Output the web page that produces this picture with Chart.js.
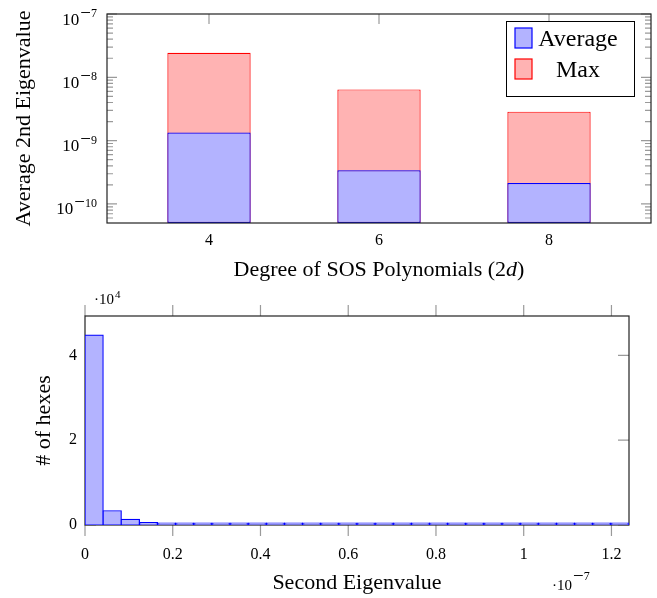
<!DOCTYPE html>
<html>
<head>
<meta charset="utf-8">
<script src="https://cdn.jsdelivr.net/npm/chart.js@4.4.0/dist/chart.umd.min.js"></script>
<style>
  html, body { margin: 0; padding: 0; background: #fff; }
  #wrap { position: relative; width: 657px; height: 598px; }
  canvas { position: absolute; left: 0; }
</style>
</head>
<body>
<div id="wrap">
  <canvas id="topChart" width="657" height="290" style="top:0"></canvas>
  <canvas id="bottomChart" width="657" height="308" style="top:290px"></canvas>
</div>
<script>
// ---- top chart data (log scale bars)
var degrees = [4, 6, 8];
var avgEig = [1.34e-9, 3.39e-10, 2.14e-10];
var maxEig = [2.44e-8, 6.44e-9, 2.87e-9];
var degreeTicks = [4, 6, 8];
var eigTicks = [1e-10, 1e-9, 1e-8, 1e-7];

// ---- bottom chart data (histogram, x in units of 1e-7)
var binCenters = [0.0207, 0.0620, 0.1033, 0.1447, 0.1860, 0.2273, 0.2687, 0.3100, 0.3513, 0.3927,
                  0.4340, 0.4753, 0.5167, 0.5580, 0.5993, 0.6407, 0.6820, 0.7233, 0.7647, 0.8060,
                  0.8473, 0.8887, 0.9300, 0.9713, 1.0127, 1.0540, 1.0953, 1.1367, 1.1780, 1.2193];
var hexCounts = [44800, 3360, 1340, 540, 200, 170, 140, 110, 60, 50,
                 45, 40, 35, 30, 25, 22, 20, 18, 15, 12,
                 10, 10, 8, 8, 6, 6, 5, 5, 4, 4];
var secondTicks = [0, 0.2, 0.4, 0.6, 0.8, 1, 1.2];
var countTicks = [0, 20000, 40000];

var serif = "'Liberation Serif', 'Times New Roman', serif";
var blueFill = 'rgb(179,179,255)', blueLine = 'rgb(0,0,255)';
var redFill = 'rgb(255,179,179)', redLine = 'rgb(255,0,0)';
var tickGray = '#9a9a9a';

// draws base^exp text like TeX, x is left or right edge, y is the base line of the base text
function drawPow(ctx, x, y, base, exp, o) {
  ctx.save();
  ctx.fillStyle = '#000';
  ctx.textAlign = 'left';
  ctx.textBaseline = 'alphabetic';
  var neg = exp.charAt(0) === '-';
  var digits = neg ? exp.slice(1) : exp;
  ctx.font = o.bs + 'px ' + serif;
  var wb = ctx.measureText(base).width;
  ctx.font = o.ms + 'px ' + serif;
  var wm = neg ? ctx.measureText('\u2212').width : 0;
  ctx.font = o.es + 'px ' + serif;
  var wd = ctx.measureText(digits).width;
  var x0 = o.right ? x - wb - wm - wd - 1 : x;
  var ey = y - o.raise;
  ctx.font = o.bs + 'px ' + serif;
  ctx.fillText(base, x0, y);
  if (neg) {
    ctx.font = o.ms + 'px ' + serif;
    ctx.fillText('\u2212', x0 + wb + 1, ey + (o.drop || 0));
  }
  ctx.font = o.es + 'px ' + serif;
  ctx.fillText(digits, x0 + wb + wm + 1, ey);
  ctx.restore();
}

// pgfplots-like frame + tick marks
var pgfFrame = {
  id: 'pgfFrame',
  beforeDatasetsDraw: function (chart, args, o) {
    var ctx = chart.ctx, a = chart.chartArea;
    var xs = chart.scales.x, ys = chart.scales.y;
    ctx.save();
    ctx.strokeStyle = tickGray;
    ctx.lineWidth = 1.2;
    ctx.beginPath();
    xs.ticks.forEach(function (t) {
      var px = xs.getPixelForValue(t.value);
      ctx.moveTo(px, a.top); ctx.lineTo(px, a.top + o.xDir * o.xLen);
      ctx.moveTo(px, a.bottom); ctx.lineTo(px, a.bottom - o.xDir * o.xLen);
    });
    ys.ticks.forEach(function (t) {
      var py = ys.getPixelForValue(t.value);
      ctx.moveTo(a.left, py); ctx.lineTo(a.left + o.yLen, py);
      ctx.moveTo(a.right, py); ctx.lineTo(a.right - o.yLen, py);
    });
    (o.minor || []).forEach(function (v) {
      var py = ys.getPixelForValue(v);
      if (py < a.top || py > a.bottom) return;
      ctx.moveTo(a.left, py); ctx.lineTo(a.left + o.minorLen, py);
      ctx.moveTo(a.right, py); ctx.lineTo(a.right - o.minorLen, py);
    });
    ctx.stroke();
    if (o.frameUnder) {
      ctx.strokeStyle = '#222';
      ctx.strokeRect(a.left, a.top, a.right - a.left, a.bottom - a.top);
    }
    ctx.restore();
  },
  afterDatasetsDraw: function (chart, args, o) {
    var ctx = chart.ctx, a = chart.chartArea;
    ctx.save();
    if (!o.frameUnder) {
      ctx.strokeStyle = '#222';
      ctx.lineWidth = 1.2;
      ctx.strokeRect(a.left, a.top, a.right - a.left, a.bottom - a.top);
    }
    if (o.legend) {
      var bx = a.right - 145, by = a.top + 7;
      ctx.fillStyle = '#fff';
      ctx.fillRect(bx, by, 128, 75);
      ctx.strokeStyle = '#000';
      ctx.lineWidth = 1;
      ctx.strokeRect(bx + 0.5, by + 0.5, 128, 75);
      ctx.font = '24px ' + serif;
      ctx.textAlign = 'center';
      ctx.textBaseline = 'middle';
      chart.data.datasets.forEach(function (ds, i) {
        var sy = by + 7 + i * 31;
        ctx.fillStyle = ds.backgroundColor;
        ctx.fillRect(bx + 9, sy, 17, 20);
        ctx.strokeStyle = ds.borderColor;
        ctx.lineWidth = 1.2;
        ctx.strokeRect(bx + 9, sy, 17, 20);
        ctx.fillStyle = '#000';
        ctx.fillText(ds.label, bx + 72, sy + 12);
      });
    }
    ctx.restore();
  },
  afterDraw: function (chart, args, o) {
    var ctx = chart.ctx, a = chart.chartArea;
    // log tick labels as 10^k
    if (o.powLabels) {
      var ys = chart.scales.y;
      ys.ticks.forEach(function (t) {
        var py = ys.getPixelForValue(t.value);
        var e = String(Math.round(Math.log10(t.value)));
        drawPow(ctx, a.left - 10, py + 10.5, '10', e, { bs: 17, es: 12, ms: 19, raise: 7.5, drop: 1.5, right: true });
      });
    }
    (o.notes || []).forEach(function (n) {
      drawPow(ctx, n.x, n.y, n.base, n.exp, n);
    });
    if (o.xTitle) {
      var parts = o.xTitle, cx = (a.left + a.right) / 2;
      ctx.save();
      ctx.textBaseline = 'middle';
      ctx.textAlign = 'left';
      ctx.fillStyle = '#000';
      var w = 0;
      parts.forEach(function (p) {
        ctx.font = (p.italic ? 'italic ' : '') + '22px ' + serif;
        p.w = ctx.measureText(p.text).width;
        w += p.w;
      });
      var x = cx - w / 2;
      parts.forEach(function (p) {
        ctx.font = (p.italic ? 'italic ' : '') + '22px ' + serif;
        ctx.fillText(p.text, x, o.xTitleY);
        x += p.w;
      });
      ctx.restore();
    }
  }
};

var minorEig = [];
eigTicks.forEach(function (d) {
  for (var k = 2; k <= 9; k++) minorEig.push(d * k);
});
minorEig.push(6e-11, 7e-11, 8e-11, 9e-11);

new Chart(document.getElementById('topChart'), {
  type: 'bar',
  data: {
    datasets: [{
      label: 'Average',
      data: degrees.map(function (d, i) { return {x: d, y: avgEig[i]}; }),
      backgroundColor: blueFill,
      borderColor: blueLine,
      borderWidth: 1.2,
      borderSkipped: false
    }, {
      label: 'Max',
      data: degrees.map(function (d, i) { return {x: d, y: maxEig[i]}; }),
      backgroundColor: redFill,
      borderColor: redLine,
      borderWidth: 1.2,
      borderSkipped: false
    }]
  },
  options: {
    responsive: false,
    animation: false,
    layout: { padding: { top: 14, right: 6, left: 0, bottom: 0 } },
    datasets: { bar: { grouped: false, categoryPercentage: 1, barPercentage: 0.49 } },
    plugins: {
      legend: { display: false },
      tooltip: { enabled: false },
      pgfFrame: {
        xDir: 1, xLen: 10, yLen: 10, minorLen: 6, minor: minorEig, legend: true, powLabels: true,
        xTitle: [{ text: 'Degree of SOS Polynomials (2' }, { text: 'd', italic: true }, { text: ')' }],
        xTitleY: 270
      }
    },
    scales: {
      x: {
        type: 'linear', min: 2.8, max: 9.2, offset: false,
        grid: { display: false, drawTicks: false }, border: { display: false },
        afterBuildTicks: function (s) { s.ticks = degreeTicks.map(function (v) { return {value: v}; }); },
        afterFit: function (s) { s.height = 67; },
        ticks: { color: '#000', padding: 8, font: { family: serif, size: 16 }, callback: function (v) { return String(v); } }
      },
      y: {
        type: 'logarithmic', min: 5e-11, max: 1e-7,
        grid: { display: false, drawTicks: false }, border: { display: false },
        afterBuildTicks: function (s) { s.ticks = eigTicks.map(function (v) { return {value: v}; }); },
        afterFit: function (s) { s.width = 107; },
        ticks: { display: false },
        title: { display: true, text: 'Average 2nd Eigenvalue', color: '#000',
                 font: { family: serif, size: 22 }, padding: { top: 11, bottom: 0 } }
      }
    }
  },
  plugins: [pgfFrame]
});

new Chart(document.getElementById('bottomChart'), {
  type: 'bar',
  data: {
    datasets: [{
      label: '# of hexes',
      data: binCenters.map(function (c, i) { return {x: c, y: hexCounts[i]}; }),
      backgroundColor: blueFill,
      borderColor: blueLine,
      borderWidth: 1.2,
      borderSkipped: false,
      minBarLength: 2,
      inflateAmount: 0.6
    }]
  },
  options: {
    responsive: false,
    animation: false,
    layout: { padding: { top: 26, right: 28, left: 0, bottom: 0 } },
    datasets: { bar: { categoryPercentage: 1, barPercentage: 1 } },
    plugins: {
      legend: { display: false },
      tooltip: { enabled: false },
      pgfFrame: { xDir: -1, xLen: 11, yLen: 11, frameUnder: true, notes: [
        { base: '\u00B710', exp: '4', x: 94, y: 14, bs: 15, es: 11, ms: 11, raise: 6 },
        { base: '\u00B710', exp: '-7', x: 552, y: 300, bs: 15, es: 12, ms: 19, raise: 10, drop: 1.5 }
      ] }
    },
    scales: {
      x: {
        type: 'linear', min: 0, max: 1.24, offset: false,
        grid: { display: false, drawTicks: false }, border: { display: false },
        afterBuildTicks: function (s) { s.ticks = secondTicks.map(function (v) { return {value: v}; }); },
        afterFit: function (s) { s.height = 73; },
        ticks: { color: '#000', padding: 20, font: { family: serif, size: 16 }, callback: function (v) { return String(v); } },
        title: { display: true, text: 'Second Eigenvalue', color: '#000',
                 font: { family: serif, size: 22 }, padding: { top: 0, bottom: 2 } }
      },
      y: {
        type: 'linear', min: 0, max: 49300,
        grid: { display: false, drawTicks: false }, border: { display: false },
        afterBuildTicks: function (s) { s.ticks = countTicks.map(function (v) { return {value: v}; }); },
        afterFit: function (s) { s.width = 85; },
        ticks: { color: '#000', padding: 8, font: { family: serif, size: 16 }, callback: function (v) { return String(v / 10000); } },
        title: { display: true, text: '# of hexes', color: '#000',
                 font: { family: serif, size: 22 }, padding: { top: 31, bottom: 0 } }
      }
    }
  },
  plugins: [pgfFrame]
});
</script>
</body>
</html>
